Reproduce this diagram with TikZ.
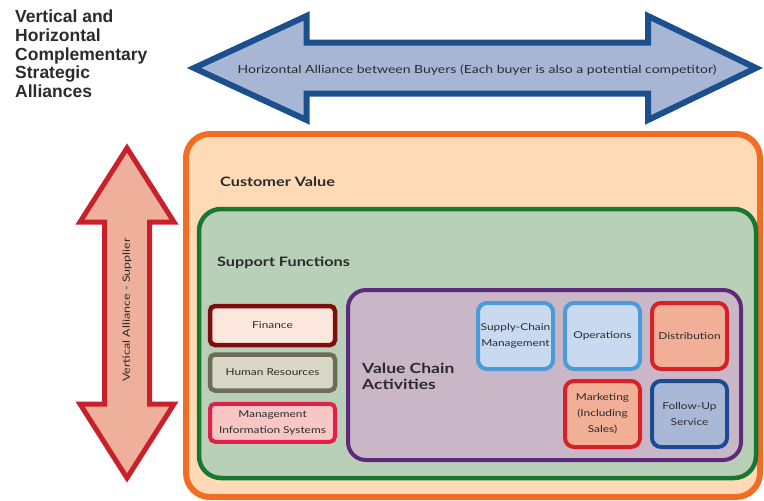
\documentclass[tikz,border=0pt]{standalone}
\usepackage{fontspec}
\setmainfont{Liberation Sans}
\newfontfamily\gillfont[FakeStretch=1.25]{Lato}
\usetikzlibrary{positioning}
\definecolor{Ink}{HTML}{2B2B2B}
\definecolor{NavyLine}{HTML}{1C4F8E}
\definecolor{NavyFill}{HTML}{A8B6D6}
\definecolor{RedLine}{HTML}{C9212B}
\definecolor{SalmonFill}{HTML}{EEB09A}
\definecolor{Orange}{HTML}{F26D23}
\definecolor{Peach}{HTML}{FEDBB6}
\definecolor{Green}{HTML}{17772F}
\definecolor{GreenLight}{HTML}{B8D0B8}
\definecolor{Purple}{HTML}{5D2B7A}
\definecolor{PurpleLight}{HTML}{C9B7C8}
\definecolor{Maroon}{HTML}{7E0E0E}
\definecolor{MaroonLight}{HTML}{FCE7DF}
\definecolor{Olive}{HTML}{6D6C57}
\definecolor{OliveLight}{HTML}{D9D7C7}
\definecolor{Crimson}{HTML}{E51F4B}
\definecolor{CrimsonLight}{HTML}{F8C6C4}
\definecolor{Sky}{HTML}{4B9BD8}
\definecolor{SkyLight}{HTML}{C9D9F0}
\definecolor{Red}{HTML}{D82027}
\definecolor{RedFill}{HTML}{F0AF96}
\definecolor{Navy}{HTML}{1A4B93}
\definecolor{NavyLight}{HTML}{AAB8D8}
\newcommand\boxfont{\gillfont\fontsize{9.5}{16}\selectfont}
\newcommand\headfont{\gillfont\bfseries\fontsize{13}{15}\selectfont}
\tikzset{harrow/.style={draw=NavyLine,fill=NavyFill,line width=6pt},varrow/.style={draw=RedLine,fill=SalmonFill,line width=5pt},layer/.style={inner sep=0pt},heading/.style={anchor=west,inner sep=0pt,font=\headfont,text=Ink},supbox/.style={rounded corners=5pt,line width=4.5pt,minimum width=125pt,inner sep=0pt,align=center,font=\boxfont,text=Ink},vcbox/.style={rounded corners=9pt,line width=4pt,minimum width=75pt,minimum height=66pt,inner sep=0pt,align=center,font=\boxfont,text=Ink}}

\begin{document}
\begin{tikzpicture}[x=1pt,y=-1pt]
      \useasboundingbox (0,0) rectangle (764,501);
      \node[anchor=north west,align=left,inner sep=0pt,font=\bfseries\fontsize{17.5}{18.7}\selectfont,text=Ink](title) at (15,10){Vertical and\\Horizontal\\Complementary\\Strategic\\Alliances};
      \draw[harrow](194,68)--(306.5,16)--(306.5,42.5)--(648,42.5)--(648,16)--(756,68)--(648,120)--(648,93.5)--(306.5,93.5)--(306.5,120)--cycle;
      \node[inner sep=0pt,font=\gillfont\fontsize{11.2}{13}\selectfont,text=Ink](htext) at (477,70){Horizontal Alliance between Buyers (Each buyer is also a potential competitor)};
      \draw[varrow](127,148)--(174,222)--(149.5,222)--(149.5,404)--(174,404)--(127,478)--(80,404)--(104.5,404)--(104.5,222)--(80,222)--cycle;
      \node[rotate=90,inner sep=0pt,font=\gillfont\fontsize{10}{12}\selectfont,text=Ink](vtext) at (127,310){Vertical Alliance - Supplier};
      \node[layer,draw=Orange,fill=Peach,line width=6pt,rounded corners=24pt,minimum width=574pt,minimum height=363pt](customer) at (473,315.5){};
      \node[heading](customerlbl) at (220,182){Customer Value};
      \node[layer,draw=Green,fill=GreenLight,line width=4.5pt,rounded corners=22pt,minimum width=557pt,minimum height=269pt](support) at (477.5,343.5){};
      \node[heading](supportlbl) at (217,263){Support Functions};
      \node[supbox,draw=Maroon,fill=MaroonLight,minimum height=39pt](finance) at (272.5,325.5){Finance};
      \node[supbox,draw=Olive,fill=OliveLight,minimum height=36pt,below=5pt of finance](hr){Human Resources};
      \node[supbox,draw=Crimson,fill=CrimsonLight,line width=4pt,minimum height=38pt,below=9pt of hr](mis){Management\\Information Systems};
      \node[layer,draw=Purple,fill=PurpleLight,line width=4pt,rounded corners=18pt,minimum width=393pt,minimum height=170pt](chain) at (544.5,375){};
      \node[heading,align=left,font=\gillfont\bfseries\fontsize{14}{16}\selectfont](chainlbl) at (362,376){Value Chain\\Activities};
      \node[vcbox,draw=Sky,fill=SkyLight](scm) at (515.5,336){Supply-Chain\\Management};
      \node[vcbox,draw=Sky,fill=SkyLight,right=8pt of scm](ops){Operations};
      \node[vcbox,draw=Red,fill=RedFill,right=8pt of ops](dist){Distribution};
      \node[vcbox,draw=Red,fill=RedFill,below=8pt of ops](mkt){Marketing\\(Including\\Sales)};
      \node[vcbox,draw=Navy,fill=NavyLight,below=8pt of dist](service){Follow-Up\\Service};
    \end{tikzpicture}
\end{document}
